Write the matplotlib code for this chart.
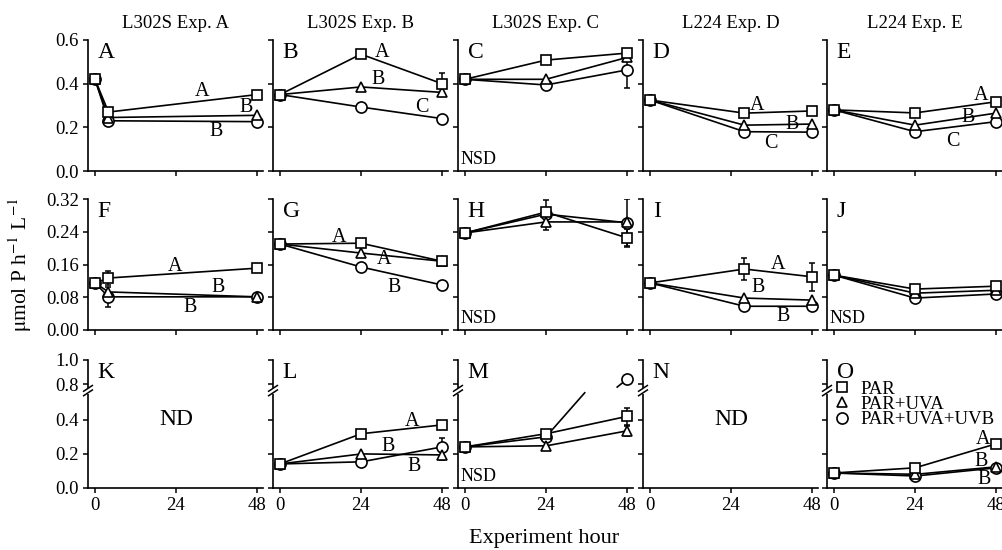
# P uptake under PAR / UVA / UVB treatments, 15 panels

import numpy as np
import matplotlib.pyplot as plt
from matplotlib.lines import Line2D
from matplotlib.patches import Rectangle

plt.rcParams['font.family'] = 'Liberation Serif'
plt.rcParams['mathtext.fontset'] = 'stix'

# sampling hours
hours_a = [0, 4, 48]
hours_d = [0, 28, 48]
hours = [0, 24, 48]

# each panel: PAR, PAR+UVA, PAR+UVA+UVB
A_vals = [[0.42, 0.27, 0.35], [0.42, 0.245, 0.255], [0.42, 0.23, 0.226]]
B_vals = [[0.35, 0.535, 0.40], [0.35, 0.385, 0.36], [0.35, 0.293, 0.24]]
B_err = [[0, 0, 0.05], [0, 0, 0], [0, 0.012, 0]]
C_vals = [[0.42, 0.508, 0.54], [0.42, 0.42, 0.52], [0.42, 0.394, 0.463]]
C_err = [[0, 0, 0.02], [0, 0, 0], [0, 0, 0.085]]
D_vals = [[0.325, 0.265, 0.275], [0.325, 0.21, 0.215], [0.325, 0.18, 0.178]]
E_vals = [[0.28, 0.266, 0.317], [0.28, 0.21, 0.265], [0.28, 0.18, 0.226]]

F_vals = [[0.115, 0.127, 0.151], [0.115, 0.093, 0.081], [0.115, 0.081, 0.081]]
F_err = [[0.01, 0.017, 0.008], [0, 0, 0], [0.01, 0.025, 0.005]]
G_vals = [[0.21, 0.212, 0.168], [0.21, 0.188, 0.168], [0.21, 0.154, 0.11]]
H_vals = [[0.237, 0.288, 0.225], [0.237, 0.264, 0.264], [0.237, 0.283, 0.262]]
H_err = [[0, 0.03, 0.022], [0, 0.02, 0], [0, 0, 0.058]]
I_vals = [[0.115, 0.149, 0.13], [0.115, 0.078, 0.073], [0.115, 0.058, 0.058]]
I_err = [[0, 0.026, 0.034], [0, 0, 0], [0, 0, 0]]
J_vals = [[0.134, 0.10, 0.107], [0.134, 0.09, 0.097], [0.134, 0.078, 0.088]]
J_err = [[0.01, 0, 0], [0, 0, 0], [0, 0, 0]]

L_vals = [[0.141, 0.318, 0.37], [0.141, 0.20, 0.194], [0.141, 0.153, 0.241]]
L_err = [[0, 0, 0], [0, 0, 0.03], [0, 0, 0.05]]
M_vals = [[0.241, 0.318, 0.42], [0.241, 0.247, 0.335], [0.241, 0.30, 0.84]]
M_err = [[0, 0, 0.05], [0, 0, 0.03], [0, 0, 0]]
O_vals = [[0.088, 0.118, 0.259], [0.088, 0.08, 0.124], [0.088, 0.07, 0.118]]

col_titles = ['L302S Exp. A', 'L302S Exp. B', 'L302S Exp. C', 'L224 Exp. D', 'L224 Exp. E']
treatments = ['PAR', 'PAR+UVA', 'PAR+UVA+UVB']

# letter, row, col, hours, values, errors, note
panels = [
    ('A', 0, 0, hours_a, A_vals, None, None),
    ('B', 0, 1, hours, B_vals, B_err, None),
    ('C', 0, 2, hours, C_vals, C_err, 'NSD'),
    ('D', 0, 3, hours_d, D_vals, None, None),
    ('E', 0, 4, hours, E_vals, None, None),
    ('F', 1, 0, hours_a, F_vals, F_err, None),
    ('G', 1, 1, hours, G_vals, None, None),
    ('H', 1, 2, hours, H_vals, H_err, 'NSD'),
    ('I', 1, 3, hours_d, I_vals, I_err, None),
    ('J', 1, 4, hours, J_vals, J_err, 'NSD'),
    ('K', 2, 0, None, None, None, 'ND'),
    ('L', 2, 1, hours, L_vals, L_err, None),
    ('M', 2, 2, hours, M_vals, M_err, 'NSD'),
    ('N', 2, 3, None, None, None, 'ND'),
    ('O', 2, 4, hours, O_vals, None, None),
]

# significance letters (panel, hour, value, text)
sig_letters = [
    ('A', 31.7, 0.366, 'A'), ('A', 44.7, 0.293, 'B'), ('A', 35.9, 0.179, 'B'),
    ('B', 30.2, 0.545, 'A'), ('B', 29.0, 0.421, 'B'), ('B', 42.1, 0.293, 'C'),
    ('D', 31.7, 0.298, 'A'), ('D', 42.1, 0.211, 'B'), ('D', 35.9, 0.128, 'C'),
    ('E', 43.6, 0.348, 'A'), ('E', 39.7, 0.247, 'B'), ('E', 35.3, 0.133, 'C'),
    ('F', 23.7, 0.154, 'A'), ('F', 36.4, 0.103, 'B'), ('F', 28.1, 0.054, 'B'),
    ('G', 17.5, 0.227, 'A'), ('G', 30.8, 0.171, 'A'), ('G', 33.8, 0.105, 'B'),
    ('I', 37.9, 0.159, 'A'), ('I', 32.0, 0.103, 'B'), ('I', 39.4, 0.032, 'B'),
    ('L', 39.1, 0.388, 'A'), ('L', 32.0, 0.241, 'B'), ('L', 39.7, 0.124, 'B'),
    ('O', 44.1, 0.285, 'A'), ('O', 43.6, 0.158, 'B'), ('O', 44.4, 0.052, 'B'),
]

# broken y axis for the bottom row
brk_lo, brk_hi, k_up, eps = 0.56, 0.73, 0.706, 1e-3
line_gap_hi = 0.775


def fwd(y):
    y = np.asarray(y, float)
    z1 = brk_lo + (brk_hi - brk_lo) * eps
    return np.where(y <= brk_lo, y,
                    np.where(y < brk_hi, brk_lo + (y - brk_lo) * eps, z1 + (y - brk_hi) * k_up))


def inv(z):
    z = np.asarray(z, float)
    z1 = brk_lo + (brk_hi - brk_lo) * eps
    return np.where(z <= brk_lo, z,
                    np.where(z < z1, brk_lo + (z - brk_lo) / eps, brk_hi + (z - z1) / k_up))


W, H = 1003, 550
fig = plt.figure(figsize=(W / 100, H / 100), dpi=100)

col_left = [88, 273, 458, 643, 827]
row_span = [(40, 171), (199, 330), (360, 488)]
ax_w = 175

row_ticks = [[0, 0.2, 0.4, 0.6], [0, 0.08, 0.16, 0.24, 0.32], [0, 0.2, 0.4, 0.8, 1.0]]
row_fmt = ['%.1f', '%.2f', '%.1f']

markers = [('s', 7.5), ('^', 7.5), ('o', 8)]

for letter, r, c, hrs, vals, errs, note in panels:
    top, bot = row_span[r]
    ax = fig.add_axes([col_left[c] / W, 1 - bot / H, ax_w / W, (bot - top) / H])
    if r == 2:
        ax.set_yscale('function', functions=(fwd, inv))
    ax.set_xlim(-2.07, 49.8)
    ax.set_ylim(0, row_ticks[r][-1])
    ax.set_yticks(row_ticks[r])
    ax.set_xticks([0, 24, 48])
    for s in ['top', 'right']:
        ax.spines[s].set_visible(False)
    for s in ['left', 'bottom']:
        ax.spines[s].set_linewidth(1.2)
    ax.tick_params(direction='out', length=3.5, width=1.1, labelsize=13.5, pad=3)
    ax.minorticks_off()
    if c == 0:
        ax.set_yticklabels([row_fmt[r] % v for v in row_ticks[r]])
    else:
        ax.set_yticklabels([])
    if r != 2:
        ax.set_xticklabels([])
    if r == 0:
        ax.set_title(col_titles[c], fontsize=13.5, pad=9)

    ax.text(0.055, 0.985, letter, transform=ax.transAxes, fontsize=17,
            ha='left', va='top')

    if note == 'NSD':
        ax.text(0.015, 0.02, 'NSD', transform=ax.transAxes, fontsize=13,
                ha='left', va='bottom')
    elif note == 'ND':
        ax.text(24, 0.4, 'ND', fontsize=17, ha='center', va='center')

    if r == 2:
        # axis break marks on the left spine
        yb = float(fwd(0.565)) / float(fwd(1.0))
        ax.add_patch(Rectangle((-0.02, yb - 0.012), 0.04, 0.05, transform=ax.transAxes,
                               facecolor='white', edgecolor='none', clip_on=False, zorder=5))
        for dy in [0.0, 0.035]:
            ax.plot([-0.025, 0.025], [yb - 0.025 + dy, yb + 0.02 + dy], color='k', lw=1.1,
                    transform=ax.transAxes, clip_on=False, zorder=6)

    if vals is None:
        continue

    # lines, circle first so the squares sit on top
    for i in [2, 1, 0]:
        v = vals[i]
        if r == 2:
            tt = np.linspace(hrs[0], hrs[-1], 400)
            yy = np.interp(tt, hrs, v)
            yy[(yy > brk_lo) & (yy < line_gap_hi)] = np.nan
            ax.plot(tt, yy, color='k', lw=1.2, zorder=2)
        else:
            ax.plot(hrs, v, color='k', lw=1.2, zorder=2)
    for i in [2, 1, 0]:
        m, ms = markers[i]
        if errs is not None and any(errs[i]):
            ax.errorbar(hrs, vals[i], yerr=errs[i], fmt='none', ecolor='k',
                        elinewidth=1.1, capsize=2, capthick=1.1, zorder=2.5)
        ax.plot(hrs, vals[i], ls='none', marker=m, ms=ms, mfc='white', mec='k',
                mew=1.2, zorder=3 + (2 - i) * 0.1, clip_on=False)

    for p, x, y, t in sig_letters:
        if p == letter:
            ax.text(x, y, t, fontsize=14.5, ha='center', va='center', zorder=4)

    if letter == 'O':
        handles = [Line2D([], [], ls='none', marker=markers[i][0], ms=markers[i][1],
                          mfc='white', mec='k', mew=1.2) for i in range(3)]
        ax.legend(handles, treatments, loc='upper left', bbox_to_anchor=(0.03, 0.84),
                  frameon=False, fontsize=13.5, handlelength=1.0, handletextpad=0.5,
                  labelspacing=-0.1, borderpad=0, borderaxespad=0)

fig.text(20 / W, 1 - 265 / H, r'$\mathrm{\mu}$mol P h$^{-1}$ L$^{-1}$', rotation=90,
         fontsize=15.5, ha='center', va='center')
fig.text(544 / W, 1 - 539 / H, 'Experiment hour', fontsize=16, ha='center', va='center')

fig.savefig('out.png', dpi=100)
